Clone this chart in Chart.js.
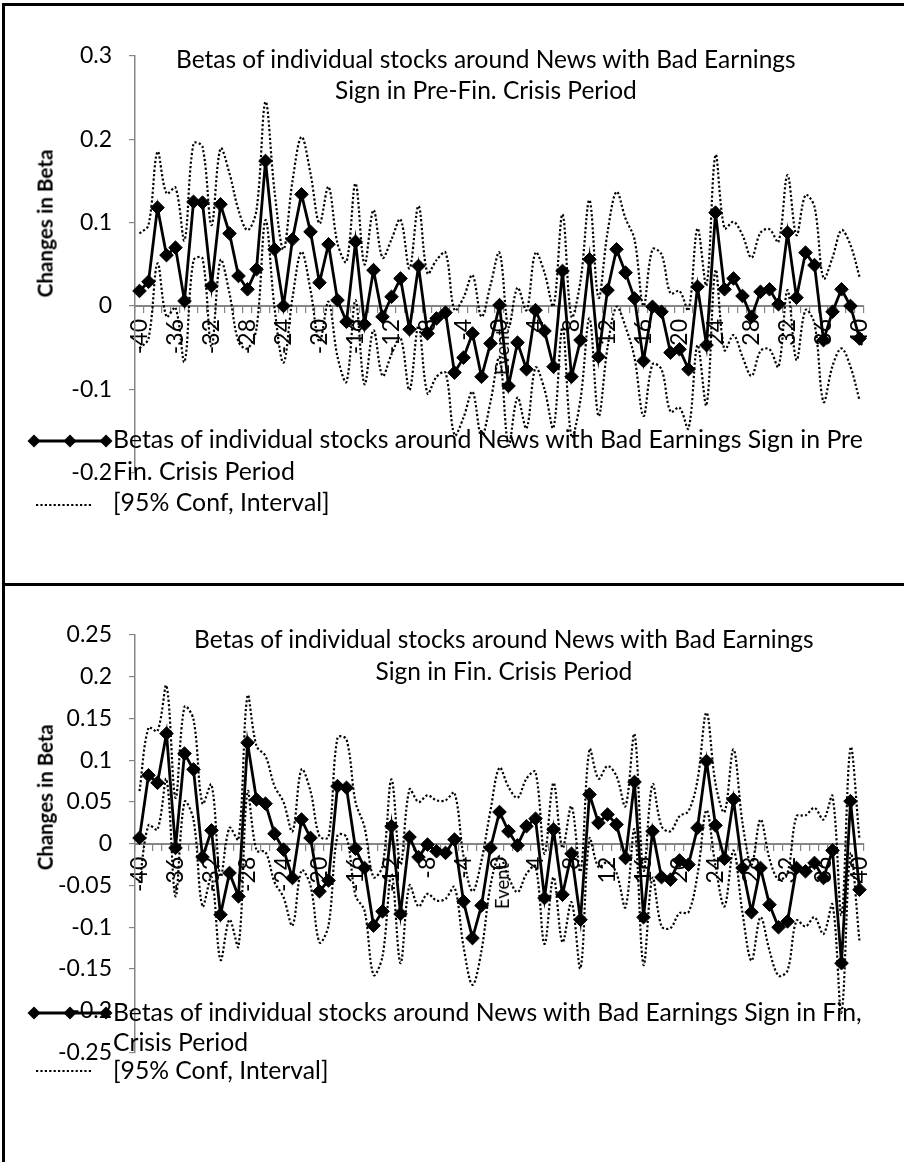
<!DOCTYPE html>
<html><head><meta charset="utf-8">
<script src="https://cdn.jsdelivr.net/npm/chart.js@4.4.0/dist/chart.umd.min.js"></script>
<style>
html,body{margin:0;padding:0;background:#fff;}
body{width:904px;height:1162px;position:relative;overflow:hidden;font-family:Lato,"Open Sans",sans-serif;}
canvas{position:absolute;left:0;}
.t{position:absolute;white-space:nowrap;color:#000;line-height:1.2;font-size:20px;}
.b{font-weight:bold;}
.rule{position:absolute;background:#000;}
</style>
</head><body>
<canvas id="cPre" width="904" height="584" style="top:0"></canvas>
<canvas id="cFin" width="904" height="578" style="top:584px"></canvas>

<div class="rule" style="left:2px;top:3px;width:902px;height:2.5px"></div>
<div class="rule" style="left:2px;top:583px;width:902px;height:3px"></div>
<div class="rule" style="left:2px;top:3px;width:2.5px;height:1159px"></div>

<div class="t" id="pT1">Betas of individual stocks around News with Bad Earnings</div>
<div class="t" id="pT2">Sign in Pre-Fin. Crisis Period</div>
<div class="t b" id="pYT">Changes in Beta</div>
<div class="t" id="pEv">Event</div>
<div class="t" id="pL1">Betas of individual stocks around News with Bad Earnings Sign in Pre</div>
<div class="t" id="pL2">Fin. Crisis Period</div>
<div class="t" id="pL3">[95% Conf, Interval]</div>

<div class="t" id="fT1">Betas of individual stocks around News with Bad Earnings</div>
<div class="t" id="fT2">Sign in Fin. Crisis Period</div>
<div class="t b" id="fYT">Changes in Beta</div>
<div class="t" id="fEv">Event</div>
<div class="t" id="fL1">Betas of individual stocks around News with Bad Earnings Sign in Fin,</div>
<div class="t" id="fL2">Crisis Period</div>
<div class="t" id="fL3">[95% Conf, Interval]</div>

<script>
// ---------- data ----------
const eventDays = ['-40','-39','-38','-37','-36','-35','-34','-33','-32','-31','-30','-29','-28','-27','-26','-25','-24','-23','-22','-21','-20','-19','-18','-17','-16','-15','-14','-13','-12','-11','-10','-9','-8','-7','-6','-5','-4','-3','-2','-1','0','1','2','3','4','5','6','7','8','9','10','11','12','13','14','15','16','17','18','19','20','21','22','23','24','25','26','27','28','29','30','31','32','33','34','35','36','37','38','39','40'];
const xTickLabels = ['-40','-36','-32','-28','-24','-20','-16','-12','-8','-4','0','4','8','12','16','20','24','28','32','36','40'];

const preYTicks = [-0.2,-0.1,0,0.1,0.2,0.3];
const finYTicks = [-0.25,-0.2,-0.15,-0.1,-0.05,0,0.05,0.1,0.15,0.2,0.25];

const preBeta = [0.018,0.029,0.118,0.061,0.070,0.006,0.125,0.124,0.024,0.122,
0.087,0.036,0.020,0.044,0.174,0.068,0.000,0.080,0.134,0.089,
0.028,0.074,0.007,-0.019,0.077,-0.022,0.043,-0.013,0.011,0.033,
-0.028,0.048,-0.033,-0.015,-0.008,-0.080,-0.062,-0.033,-0.085,-0.045,
0.001,-0.096,-0.044,-0.076,-0.005,-0.030,-0.073,0.042,-0.085,-0.041,
0.056,-0.061,0.019,0.068,0.040,0.009,-0.066,-0.001,-0.007,-0.056,
-0.052,-0.076,0.023,-0.047,0.112,0.020,0.033,0.012,-0.013,0.017,
0.020,0.002,0.088,0.010,0.064,0.049,-0.041,-0.007,0.020,0.000,
-0.039];
const preUpper = [0.087,0.097,0.185,0.135,0.142,0.079,0.195,0.191,0.097,0.189,
0.159,0.115,0.091,0.115,0.245,0.138,0.068,0.150,0.203,0.159,
0.099,0.143,0.075,0.053,0.147,0.050,0.115,0.058,0.080,0.104,
0.045,0.120,0.039,0.055,0.064,-0.005,0.010,0.037,-0.013,0.025,
0.064,-0.025,0.022,-0.005,0.064,0.040,0.000,0.110,-0.013,0.030,
0.127,0.010,0.088,0.137,0.105,0.080,0.000,0.068,0.062,0.015,
0.018,-0.005,0.093,0.025,0.181,0.093,0.101,0.085,0.058,0.088,
0.092,0.077,0.157,0.085,0.133,0.119,0.033,0.058,0.091,0.073,
0.035];
const preLower = [-0.051,-0.039,0.051,-0.013,-0.002,-0.067,0.055,0.057,-0.049,0.055,
0.015,-0.043,-0.051,-0.027,0.103,-0.002,-0.068,0.010,0.065,0.019,
-0.043,0.005,-0.061,-0.091,0.007,-0.094,-0.029,-0.084,-0.058,-0.038,
-0.101,-0.024,-0.105,-0.085,-0.080,-0.155,-0.134,-0.103,-0.157,-0.115,
-0.062,-0.167,-0.110,-0.147,-0.074,-0.100,-0.146,-0.026,-0.157,-0.112,
-0.015,-0.132,-0.050,-0.001,-0.025,-0.062,-0.132,-0.070,-0.076,-0.127,
-0.122,-0.147,-0.047,-0.119,0.043,-0.053,-0.035,-0.061,-0.084,-0.054,
-0.052,-0.073,0.019,-0.065,-0.005,-0.021,-0.115,-0.072,-0.051,-0.073,
-0.113];

const finBeta = [0.007,0.082,0.073,0.132,-0.005,0.108,0.089,-0.016,0.016,-0.085,
-0.035,-0.063,0.121,0.053,0.048,0.012,-0.007,-0.041,0.029,0.007,
-0.057,-0.044,0.069,0.067,-0.006,-0.029,-0.098,-0.081,0.021,-0.084,
0.008,-0.016,-0.001,-0.009,-0.011,0.005,-0.069,-0.113,-0.074,-0.005,
0.038,0.015,-0.002,0.021,0.030,-0.065,0.017,-0.061,-0.012,-0.091,
0.059,0.025,0.035,0.023,-0.017,0.074,-0.088,0.015,-0.040,-0.043,
-0.020,-0.025,0.019,0.099,0.022,-0.018,0.053,-0.029,-0.082,-0.029,
-0.073,-0.100,-0.093,-0.029,-0.033,-0.023,-0.041,-0.008,-0.143,0.051,
-0.055];
const finUpper = [0.063,0.139,0.135,0.189,0.055,0.164,0.149,0.048,0.071,-0.039,
0.019,0.005,0.177,0.117,0.105,0.069,0.050,0.015,0.089,0.063,
0.009,0.008,0.127,0.125,0.050,0.020,-0.040,-0.027,0.077,-0.025,
0.065,0.050,0.058,0.052,0.052,0.061,-0.015,-0.057,-0.020,0.040,
0.091,0.068,0.055,0.078,0.086,-0.012,0.073,-0.005,0.045,-0.033,
0.113,0.078,0.093,0.081,0.045,0.131,-0.032,0.071,0.021,0.015,
0.033,0.039,0.076,0.157,0.072,0.038,0.113,0.025,-0.025,0.029,
-0.018,-0.043,-0.035,0.033,0.034,0.043,0.029,0.057,-0.085,0.115,
0.005];
const finLower = [-0.047,0.022,0.017,0.077,-0.063,0.050,0.029,-0.075,-0.040,-0.139,
-0.091,-0.123,0.062,-0.008,-0.010,-0.046,-0.064,-0.098,-0.032,-0.050,
-0.118,-0.098,0.010,0.008,-0.062,-0.080,-0.157,-0.135,-0.036,-0.143,
-0.050,-0.075,-0.060,-0.068,-0.066,-0.052,-0.123,-0.169,-0.128,-0.050,
-0.015,-0.040,-0.058,-0.036,-0.027,-0.120,-0.040,-0.118,-0.070,-0.149,
0.006,-0.028,-0.022,-0.035,-0.076,0.017,-0.145,-0.041,-0.099,-0.101,
-0.083,-0.082,-0.037,0.040,-0.027,-0.075,-0.008,-0.083,-0.140,-0.088,
-0.128,-0.158,-0.152,-0.092,-0.099,-0.088,-0.108,-0.073,-0.202,-0.012,
-0.117];

// ---------- styling ----------
const AXIS_GREY = '#868686';
const TICK_FONT = {family:'Lato', size:23};

const legendMarks = {
  id:'legendMarks',
  afterDraw(chart, args, o) {
    const ctx = chart.ctx;
    ctx.save();
    ctx.strokeStyle = '#000'; ctx.fillStyle = '#000';
    ctx.lineWidth = 2.8;
    ctx.beginPath(); ctx.moveTo(o.d[0], o.dy); ctx.lineTo(o.d[2], o.dy); ctx.stroke();
    o.d.forEach(x => {
      const r = 6.5;
      ctx.beginPath();
      ctx.moveTo(x, o.dy - r); ctx.lineTo(x + r, o.dy); ctx.lineTo(x, o.dy + r); ctx.lineTo(x - r, o.dy);
      ctx.closePath(); ctx.fill();
    });
    ctx.lineWidth = 2.2; ctx.setLineDash([2.2, 2.2]);
    ctx.beginPath(); ctx.moveTo(o.s[0], o.sy); ctx.lineTo(o.s[1], o.sy); ctx.stroke();
    ctx.restore();
  }
};

function fmt(v) { const r = Math.round(v * 100) / 100; return (r === 0 ? 0 : r).toString(); }

function buildChart(id, beta, upper, lower, yTicks, pad, leg) {
  const ciStyle = {borderColor:'#000', borderWidth:2.2, borderDash:[2.2,2.2], pointRadius:0, tension:0.35, fill:false, order:1};
  return new Chart(document.getElementById(id), {
    type:'line',
    data:{
      labels:eventDays,
      datasets:[
        {label:'beta', data:beta, borderColor:'#000', borderWidth:2.8, pointStyle:'rectRot',
         pointRadius:6.8, pointBackgroundColor:'#000', pointBorderColor:'#000', pointBorderWidth:1, tension:0, order:0},
        Object.assign({label:'upper', data:upper}, ciStyle),
        Object.assign({label:'lower', data:lower}, ciStyle)
      ]
    },
    options:{
      responsive:false, animation:false, events:[],
      layout:{padding:pad},
      plugins:{legend:{display:false}, title:{display:false}, tooltip:{enabled:false}, legendMarks:leg},
      scales:{
        x:{type:'category', offset:true, position:{y:0},
           grid:{display:true, offset:true, drawOnChartArea:false, drawTicks:true, tickLength:6, color:AXIS_GREY, lineWidth:1.2},
           border:{display:true, color:AXIS_GREY, width:2},
           ticks:{autoSkip:false, maxRotation:90, minRotation:90, padding:7, color:'#000', font:TICK_FONT,
             callback:(val, idx) => xTickLabels.includes(eventDays[idx]) ? eventDays[idx] : ''}},
        y:{min:yTicks[0], max:yTicks[yTicks.length-1],
           afterBuildTicks:s => { s.ticks = yTicks.map(v => ({value:v})); },
           afterFit:s => { s.width = 135; },
           grid:{display:true, drawOnChartArea:false, drawTicks:true, tickLength:6, color:AXIS_GREY, lineWidth:1.2},
           border:{display:true, color:AXIS_GREY, width:1.5},
           ticks:{padding:17, color:'#000', font:TICK_FONT, callback:v => fmt(v)}}
      }
    },
    plugins:[legendMarks]
  });
}

// ---------- text placement ----------
const ASC = 0.987;
function fit(ids, target) {
  const e0 = document.getElementById(ids[0]);
  e0.style.fontSize = '100px';
  const f = 100 * target / e0.offsetWidth;
  ids.forEach(i => document.getElementById(i).style.fontSize = f + 'px');
  return f;
}
function placeCenter(id, f, cx, base) {
  const e = document.getElementById(id);
  e.style.left = (cx - e.offsetWidth / 2) + 'px';
  e.style.top = (base - ASC * f) + 'px';
}
function placeLeft(id, f, x, base) {
  const e = document.getElementById(id);
  e.style.left = x + 'px';
  e.style.top = (base - ASC * f) + 'px';
}
function placeRot(id, cx, cy) {
  const e = document.getElementById(id);
  const w = e.offsetWidth, h = e.offsetHeight;
  e.style.left = (cx - w / 2) + 'px';
  e.style.top = (cy - h / 2) + 'px';
  e.style.transform = 'rotate(-90deg)';
}

function layoutTexts() {
  let f = fit(['pT1','pT2'], 620);
  placeCenter('pT1', f, 486, 68); placeCenter('pT2', f, 486, 99);
  f = fit(['fT1','fT2'], 620);
  placeCenter('fT1', f, 504, 648); placeCenter('fT2', f, 504, 680);
  fit(['pYT'], 148); placeRot('pYT', 45, 223);
  fit(['fYT'], 146); placeRot('fYT', 45, 797);
  fit(['pEv'], 46); placeRot('pEv', 502, 352);
  fit(['fEv'], 46); placeRot('fEv', 502, 886);
  f = fit(['pL1','pL2','pL3'], 750);
  placeLeft('pL1', f, 113, 449); placeLeft('pL2', f, 113, 481); placeLeft('pL3', f, 113, 512);
  f = fit(['fL1','fL2','fL3'], 749);
  placeLeft('fL1', f, 113, 1021); placeLeft('fL2', f, 113, 1051); placeLeft('fL3', f, 113, 1079);
}

function start() {
  layoutTexts();
  buildChart('cPre', preBeta, preUpper, preLower, preYTicks,
    {left:0, right:40, top:56, bottom:111.4},
    {d:[34,70,106], dy:441, s:[36,91], sy:505});
  buildChart('cFin', finBeta, finUpper, finLower, finYTicks,
    {left:0, right:40, top:51, bottom:109.5},
    {d:[34,70,106], dy:429, s:[36,91], sy:487});
}
if (document.fonts && document.fonts.load) {
  Promise.all([document.fonts.load('20px Lato'), document.fonts.load('bold 20px Lato')]).then(start, start);
} else { start(); }
</script>
</body></html>
